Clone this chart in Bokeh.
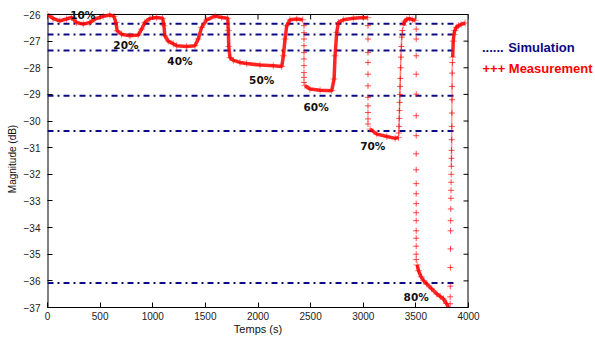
from bokeh.plotting import figure
from bokeh.models import Label, FixedTicker, Range1d
from bokeh.layouts import row
from bokeh.core.properties import value
from bokeh.embed import file_html
from bokeh.resources import INLINE

# ---------------- data ----------------
x_ticks = [0, 500, 1000, 1500, 2000, 2500, 3000, 3500, 4000]
y_ticks = [-37, -36, -35, -34, -33, -32, -31, -30, -29, -28, -27, -26]
x_min, x_max = 0, 4000
y_min, y_max = -37, -26

# simulation levels (dash-dot lines)
sim_levels = [-26.35, -26.75, -27.35, -29.05, -30.37, -36.08]
sim_t_start = 0
sim_t_end = 3870

# measurement: densely sampled parts of the trace
seg1_t = [0, 53, 117, 180, 228, 276, 339, 402, 450, 529, 592, 631, 650, 662, 703, 783, 862,
          894, 925, 973, 1036, 1094, 1106, 1115, 1147, 1195, 1227, 1322, 1401, 1432, 1464, 1512,
          1591, 1655, 1712, 1718, 1722, 1734, 1766, 1829, 1893, 2019, 2146, 2226, 2241,
          2257, 2273, 2304, 2368, 2425]
seg1_v = [-26.0, -26.15, -26.24, -26.17, -26.11, -26.3, -26.36, -26.3, -26.17, -26.07, -26.02,
          -26.07, -26.3, -26.61, -26.74, -26.8, -26.77, -26.55, -26.3, -26.15, -26.11, -26.14,
          -26.42, -26.8, -27.0, -27.1, -27.17, -27.2, -27.17, -26.92, -26.49, -26.2, -26.06,
          -26.11, -26.14, -26.6, -27.2, -27.62, -27.72, -27.8, -27.84, -27.9, -27.92, -27.95,
          -27.55, -26.92, -26.42, -26.2, -26.17, -26.2]
seg2_t = [2447, 2494, 2590, 2701, 2723, 2732, 2748, 2764, 2811, 2906, 3001, 3043]
seg2_v = [-28.67, -28.8, -28.84, -28.86, -28.42, -27.55, -26.67, -26.3, -26.2, -26.14, -26.11, -26.12]
seg3_t = [3065, 3129, 3224, 3303, 3335]
seg3_v = [-30.3, -30.49, -30.58, -30.65, -30.62]
seg4_t = [3380, 3395, 3414, 3440, 3470, 3493]
seg4_v = [-26.4, -26.25, -26.18, -26.15, -26.2, -26.22]
seg5_t = [3512, 3525, 3550, 3575, 3604, 3650, 3699, 3730, 3762, 3790, 3810]
seg5_v = [-35.4, -35.62, -35.85, -36.0, -36.12, -36.3, -36.49, -36.58, -36.68, -36.85, -37.0]
seg6_t = [3850, 3855, 3862, 3870, 3885, 3905, 3930, 3968]
seg6_v = [-27.6, -27.0, -26.75, -26.6, -26.48, -26.42, -26.37, -26.32]

# measurement: columns of samples in the fast transitions
drop60_t = [2437] * 10
drop60_v = [-26.42, -26.68, -26.92, -27.17, -27.43, -27.67, -27.92, -28.18, -28.36, -28.55]
drop70_t = [3045] * 11
drop70_v = [-26.42, -26.92, -27.43, -27.8, -28.24, -28.68, -29.11, -29.43, -29.68, -29.92, -30.11]
rise70_t = [3338, 3340, 3342, 3344, 3346, 3348, 3350, 3352, 3355, 3358, 3362, 3366, 3372]
rise70_v = [-30.45, -30.2, -29.9, -29.6, -29.3, -29.0, -28.7, -28.4, -28.0, -27.6, -27.2,
            -26.85, -26.6]
drop80_t = [3503] * 19
drop80_v = [-26.55, -26.92, -27.55, -28.24, -28.99, -29.8, -30.55, -31.23, -31.83, -32.35,
            -32.73, -33.1, -33.44, -33.74, -34.12, -34.4, -34.7, -35.0, -35.2]
rise80_t = [3826, 3826, 3827, 3828, 3829, 3830, 3831, 3832, 3833, 3834, 3835, 3836, 3837,
            3838, 3839, 3840, 3841, 3842, 3843, 3844, 3845, 3847]
rise80_v = [-36.86, -36.6, -36.2, -35.5, -34.8, -34.12, -33.74, -33.3, -32.9, -32.6, -32.3,
            -32.0, -31.7, -31.4, -31.1, -30.7, -30.2, -29.7, -29.2, -28.7, -28.2, -27.8]

# percentage labels
pct_text = ["10%", "20%", "40%", "50%", "60%", "70%", "80%"]
pct_t = [335, 745, 1258, 2035, 2552, 3091, 3503]
pct_v = [-26.03, -27.13, -27.74, -28.45, -29.46, -30.95, -36.62]

# legend
legend_marks = ["......", "+++"]
legend_names = ["Simulation", "Measurement"]

# ---------------- main figure ----------------
NAVY = "#0a0a84"
RED = "#ff0000"

x_per_px = 4000 / 421.0
y_per_px = 11 / 293.0
head = 4  # px of headroom above the box so the 10% label is not cut

p = figure(width=481, height=339, x_range=Range1d(x_min, x_max),
           y_range=Range1d(y_min, y_max + head * y_per_px),
           output_backend="svg", toolbar_location=None,
           min_border_left=47, min_border_right=13, min_border_top=14 - head,
           min_border_bottom=32)
p.background_fill_color = "white"
p.border_fill_color = "white"
p.outline_line_color = None
p.grid.visible = False

for ax in (p.xaxis[0], p.yaxis[0]):
    ax.axis_line_color = "black"
    ax.major_tick_in = 5
    ax.major_tick_out = 0
    ax.minor_tick_in = 0
    ax.minor_tick_out = 0
    ax.major_tick_line_color = "black"
    ax.major_label_text_font = "Liberation Sans"
    ax.major_label_text_font_size = "10px"
    ax.major_label_text_color = "#222222"
    ax.axis_label_text_font = "Liberation Sans"
    ax.axis_label_text_font_style = "normal"
    ax.axis_label_text_color = "#111111"
p.yaxis.axis_line_color = None

p.xaxis.ticker = FixedTicker(ticks=x_ticks)
p.yaxis.ticker = FixedTicker(ticks=y_ticks)
p.xaxis.axis_label = "Temps (s)"
p.xaxis.axis_label_text_font_size = "11px"
p.xaxis.major_label_standoff = 4
p.xaxis.axis_label_standoff = 0
p.yaxis.axis_label = "Magnitude (dB)"
p.yaxis.axis_label_text_font_size = "10px"
p.yaxis.major_label_standoff = 7
p.yaxis.axis_label_standoff = 3

# plot box (left and right edges sit on the frame edge, so drawn 2 px wide)
p.segment(x0=[x_min, x_max], y0=[y_min, y_min], x1=[x_min, x_max], y1=[y_max, y_max],
          line_color="black", line_width=2)
p.segment(x0=[x_min], y0=[y_max], x1=[x_max], y1=[y_max], line_color="black", line_width=1)

# mirrored inward ticks on top and right (length ~5 px in data units)
p.segment(x0=x_ticks, y0=[y_max] * len(x_ticks), x1=x_ticks,
          y1=[y_max - 5 * y_per_px] * len(x_ticks), line_color="black", line_width=1)
p.segment(x0=[x_max] * len(y_ticks), y0=y_ticks, x1=[x_max - 5 * x_per_px] * len(y_ticks),
          y1=y_ticks, line_color="black", line_width=1)

# simulation lines
p.multi_line(xs=[[sim_t_start, sim_t_end] for _ in sim_levels],
             ys=[[lv, lv] for lv in sim_levels],
             line_color=NAVY, line_width=2, line_dash="6 4 2 4")

# measurement dense trace
segs_t = [seg1_t, seg2_t, seg3_t, seg4_t, seg5_t, seg6_t]
segs_v = [seg1_v, seg2_v, seg3_v, seg4_v, seg5_v, seg6_v]
p.multi_line(xs=segs_t, ys=segs_v, line_color=RED, line_width=3.5, line_alpha=0.85)
all_t = [t for s in segs_t for t in s]
all_v = [v for s in segs_v for v in s]
p.scatter(all_t, all_v, marker="cross", size=7, line_color=RED, line_alpha=0.5)

# transition samples
p.line(rise70_t, rise70_v, line_color=RED, line_width=1.5, line_alpha=0.5)
p.line(rise80_t[12:], rise80_v[12:], line_color=RED, line_width=1.5, line_alpha=0.4)
sp_t = drop60_t + drop70_t + rise70_t + drop80_t + rise80_t
sp_v = drop60_v + drop70_v + rise70_v + drop80_v + rise80_v
p.scatter(sp_t, sp_v, marker="cross", size=6, line_color=RED, line_alpha=0.7, line_width=1)

# percentage labels
for txt, t, v in zip(pct_text, pct_t, pct_v):
    p.add_layout(Label(x=t, y=v, text=txt, text_align="center", text_baseline="middle",
                       text_font="DejaVu Sans", text_font_style="bold",
                       text_font_size="10.5px", text_color="#111111"))

# ---------------- legend panel ----------------
lg = figure(width=114, height=339, x_range=Range1d(0, 114), y_range=Range1d(339, 0),
            output_backend="svg", toolbar_location=None, x_axis_type=None, y_axis_type=None,
            min_border=0, min_border_left=0, min_border_right=0, min_border_top=0,
            min_border_bottom=0)
lg.outline_line_color = None
lg.grid.visible = False
lg.background_fill_color = "white"
lg.border_fill_color = "white"
mark_x = [0.5, 1.0]
name_x = [26.7, 27.3]
row_y = [42.0, 66.0]
colors = [NAVY, RED]
lg.text(x=mark_x, y=row_y, text=legend_marks, text_color=colors,
        text_font=value("Liberation Sans"), text_font_style="bold", text_font_size="13px",
        text_baseline="middle", text_align="left")
lg.text(x=name_x, y=row_y, text=legend_names, text_color=colors,
        text_font=value("Liberation Sans"), text_font_style="bold", text_font_size="13px",
        text_baseline="middle", text_align="left")

layout = row(p, lg, spacing=0)
open("out.html", "w").write(file_html(layout, INLINE))
